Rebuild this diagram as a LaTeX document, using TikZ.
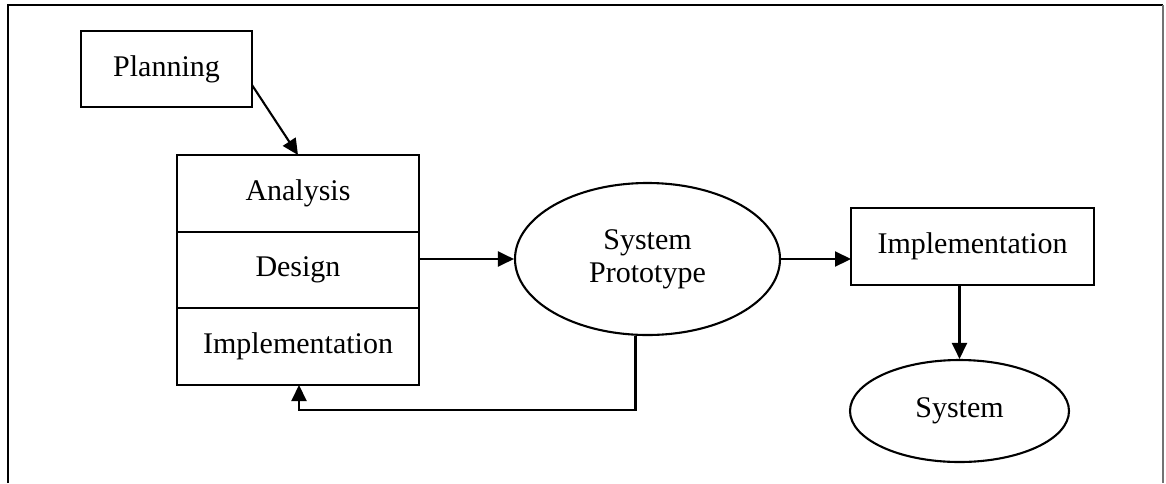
\documentclass[tikz,border=0pt]{standalone}
\usepackage{fontspec}
\setmainfont{Liberation Serif}
\usepackage{tikz}
\usetikzlibrary{shapes.geometric, arrows.meta, positioning}

\begin{document}
\begin{tikzpicture}[x=1pt, y=-1pt, font=\fontsize{30}{33}\selectfont,
    node distance=0pt, line width=2.1pt,
    box/.style={rectangle, draw, inner sep=0pt, outer sep=0pt, align=center},
    oval/.style={ellipse, draw, inner sep=0pt, align=center},
    flow/.style={-{Triangle[length=16pt, width=15pt]}}]
  \useasboundingbox (0,0) rectangle (1166,483);
  \draw (8,483) |- (1163,5);
  \draw[black!55, line width=1.2pt] (1163,5) -- (1163,483);

  \node[box, minimum width=171pt, minimum height=76pt] (plan) at (166.5,69) {Planning};

  \node[box, minimum width=242pt, minimum height=77pt] (analysis) at (298,193.5) {Analysis};
  \node[box, minimum width=242pt, minimum height=76pt, below=of analysis] (design) {Design};
  \node[box, minimum width=242pt, minimum height=77pt, below=of design] (impl) {Implementation};

  \node[oval, minimum width=265pt, minimum height=152pt] (proto) at (647.5,259) {System\\Prototype};
  \node[box, minimum width=243pt, minimum height=77pt] (implbox) at (972.5,246.5) {Implementation};
  \node[oval, minimum width=219pt, minimum height=102pt] (sys) at (959.5,411) {System};

  \coordinate (back) at (299,410);

  \draw[flow] ([yshift=-16pt]plan.east) -- (analysis.north);
  \draw[flow] (proto.west -| design.east) -- (proto.west);
  \draw[flow] (proto.east) -- (proto.east -| implbox.west);
  \draw[flow] (implbox.south -| sys.north) -- (sys.north);
  \draw[flow] ([xshift=-12pt]proto.south) |- (back) -- (impl.south -| back);
\end{tikzpicture}
\end{document}
